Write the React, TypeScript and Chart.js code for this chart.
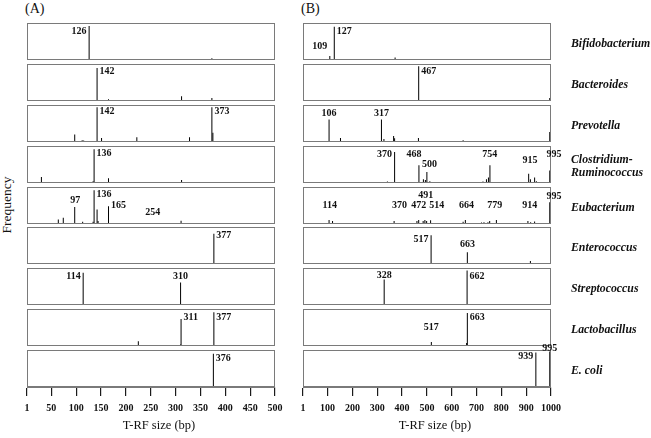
import React, { useEffect, useRef } from 'react';
import { Chart, registerables } from 'chart.js';

Chart.register(...registerables);

// ---------- DATA ----------
const GENERA = [
  'Bifidobacterium',
  'Bacteroides',
  'Prevotella',
  'Clostridium-\nRuminococcus',
  'Eubacterium',
  'Enterococcus',
  'Streptococcus',
  'Lactobacillus',
  'E. coli',
];
const PANEL_TITLES = ['(A)', '(B)'];
const X_TITLE = 'T-RF size (bp)';
const Y_TITLE = 'Frequency';
const TICKS_A = [1, 50, 100, 150, 200, 250, 300, 350, 400, 450, 500];
const TICKS_B = [1, 100, 200, 300, 400, 500, 600, 700, 800, 900, 1000];

// peaks: [T-RF size (bp), relative frequency]
const A_BIFIDO = [[126, 92], [373, 5]];
const A_BACTER = [[142, 89], [165, 5], [312, 13], [373, 8]];
const A_PREVO = [[97, 20], [112, 5], [115, 4], [142, 94], [151, 11], [222, 13], [328, 13], [373, 94], [375, 25]];
const A_CLOST = [[30, 16], [62, 3], [69, 2], [81, 2], [134, 5], [136, 91], [165, 13], [312, 8]];
const A_EUBAC = [[64, 12], [74, 17], [97, 46], [113, 6], [134, 6], [136, 91], [142, 39], [144, 8], [165, 48], [254, 3], [311, 9]];
const A_ENTER = [[377, 82]];
const A_STREP = [[114, 87], [142, 2], [240, 2], [310, 61]];
const A_LACTO = [[142, 2], [225, 13], [284, 2], [310, 4], [311, 73], [377, 91]];
const A_ECOLI = [[134, 2], [376, 90]];

const B_BIFIDO = [[109, 11], [127, 90], [330, 3], [372, 7]];
const B_BACTER = [[370, 3], [467, 94], [655, 3], [846, 2], [995, 8]];
const B_PREVO = [[106, 61], [152, 11], [317, 61], [327, 8], [366, 16], [370, 10], [466, 11], [646, 5], [995, 27]];
const B_CLOST = [[50, 2], [114, 3], [175, 2], [288, 2], [341, 4], [370, 84], [422, 2], [468, 48], [486, 10], [494, 8], [500, 30], [512, 5], [612, 2], [652, 2], [666, 3], [689, 3], [726, 4], [740, 10], [748, 15], [754, 48], [910, 25], [917, 10], [934, 15], [941, 5], [955, 3], [965, 3], [995, 34]];
const B_EUBAC = [[106, 11], [120, 8], [330, 3], [368, 8], [460, 8], [467, 11], [485, 8], [492, 11], [499, 8], [515, 10], [525, 3], [646, 6], [655, 11], [720, 4], [730, 5], [746, 5], [753, 8], [780, 11], [907, 8], [918, 5], [934, 7], [944, 3], [995, 59]];
const B_ENTER = [[420, 3], [517, 78], [663, 32], [917, 8], [995, 3]];
const B_STREP = [[328, 69], [491, 2], [496, 2], [536, 2], [568, 2], [662, 93]];
const B_LACTO = [[116, 2], [321, 2], [330, 2], [518, 11], [660, 8], [663, 89]];
const B_ECOLI = [[939, 93], [995, 96]];

// peak labels: [text, anchor bp, frequency level, side]
const A_BIFIDO_LBL = [['126', 126, 78, 'l']];
const A_BACTER_LBL = [['142', 142, 81, 'r']];
const A_PREVO_LBL = [['142', 142, 83, 'r'], ['373', 373, 83, 'r']];
const A_CLOST_LBL = [['136', 136, 79, 'r']];
const A_EUBAC_LBL = [['97', 98, 64, 'c'], ['136', 136, 80, 'r'], ['165', 165, 49, 'r'], ['254', 254, 31, 'c']];
const A_ENTER_LBL = [['377', 377, 78, 'r']];
const A_STREP_LBL = [['114', 114, 76, 'l'], ['310', 310, 78, 'c']];
const A_LACTO_LBL = [['311', 311, 77, 'r'], ['377', 377, 77, 'r']];
const A_ECOLI_LBL = [['376', 376, 76, 'r']];

const B_BIFIDO_LBL = [['127', 127, 78, 'r'], ['109', 109, 36, 'l']];
const B_BACTER_LBL = [['467', 467, 81, 'r']];
const B_PREVO_LBL = [['106', 106, 78, 'c'], ['317', 317, 78, 'c']];
const B_CLOST_LBL = [['370', 370, 76, 'l'], ['468', 448, 76, 'c'], ['500', 511, 51, 'c'], ['754', 753, 76, 'c'], ['915', 915, 60, 'c'], ['995', 1012, 76, 'c']];
const B_EUBAC_LBL = [['114', 109, 49, 'c'], ['370', 390, 49, 'c'], ['472', 467, 49, 'c'], ['491', 495, 78, 'c'], ['514', 540, 49, 'c'], ['664', 660, 49, 'c'], ['779', 773, 49, 'c'], ['914', 914, 49, 'c'], ['995', 1012, 74, 'c']];
const B_ENTER_LBL = [['517', 517, 67, 'l'], ['663', 664, 54, 'c']];
const B_STREP_LBL = [['328', 328, 81, 'c'], ['662', 662, 76, 'r']];
const B_LACTO_LBL = [['663', 663, 78, 'r'], ['517', 518, 50, 'c']];
const B_ECOLI_LBL = [['939', 939, 82, 'l'], ['995', 995, 105, 'c']];

const PEAKS_A = [A_BIFIDO, A_BACTER, A_PREVO, A_CLOST, A_EUBAC, A_ENTER, A_STREP, A_LACTO, A_ECOLI];
const PEAKS_B = [B_BIFIDO, B_BACTER, B_PREVO, B_CLOST, B_EUBAC, B_ENTER, B_STREP, B_LACTO, B_ECOLI];
const LABELS_A = [A_BIFIDO_LBL, A_BACTER_LBL, A_PREVO_LBL, A_CLOST_LBL, A_EUBAC_LBL, A_ENTER_LBL, A_STREP_LBL, A_LACTO_LBL, A_ECOLI_LBL];
const LABELS_B = [B_BIFIDO_LBL, B_BACTER_LBL, B_PREVO_LBL, B_CLOST_LBL, B_EUBAC_LBL, B_ENTER_LBL, B_STREP_LBL, B_LACTO_LBL, B_ECOLI_LBL];

// ---------- LAYOUT / STYLE ----------
const SERIF = '"Liberation Serif", "Times New Roman", serif';
const NUM_FONT = { family: SERIF, size: 10, weight: 'bold' as const };
const BOX_TOPS = [23, 64, 105, 146, 187, 227, 268, 309, 350];
const BOX_H = 37;
const BOX_W = 248;
const PANEL_LEFT = [27, 303];
const PL = 16, PR = 16, PT = 14, PB = 4, AXIS_H = 48;

function Spectrum({ peaks, labels, xmax, ticks, bottom, boxLeft, boxTop }) {
  const ref = useRef<HTMLCanvasElement | null>(null);
  const W = BOX_W + PL + PR;
  const H = PT + BOX_H + (bottom ? AXIS_H : PB);
  useEffect(() => {
    const boxPlugin = {
      id: 'boxFrame',
      afterDraw(chart) {
        const { ctx, chartArea: a } = chart;
        ctx.save();
        ctx.strokeStyle = '#7a7a7a';
        ctx.lineWidth = 1;
        ctx.strokeRect(a.left + 0.5, a.top + 0.5, a.right - a.left - 1, a.bottom - a.top - 1);
        ctx.restore();
      },
    };
    const labelPlugin = {
      id: 'peakLabels',
      afterDraw(chart) {
        const { ctx } = chart;
        const xs = chart.scales.x, ys = chart.scales.y;
        ctx.save();
        ctx.font = `bold 10px ${SERIF}`;
        ctx.fillStyle = '#111';
        ctx.textBaseline = 'middle';
        for (const [t, bp, lv, side] of labels) {
          const px = xs.getPixelForValue(bp);
          const py = ys.getPixelForValue(lv);
          if (side === 'l') { ctx.textAlign = 'right'; ctx.fillText(t, px - 2.5, py); }
          else if (side === 'r') { ctx.textAlign = 'left'; ctx.fillText(t, px + 2.5, py); }
          else { ctx.textAlign = 'center'; ctx.fillText(t, px, py); }
        }
        ctx.restore();
      },
    };
    const xScale: any = {
      type: 'linear',
      min: 1,
      max: xmax,
      offset: false,
      display: !!bottom,
    };
    if (bottom) {
      Object.assign(xScale, {
        afterBuildTicks: (s) => { s.ticks = ticks.map((v) => ({ value: v })); },
        afterFit: (s) => { s.height = AXIS_H; },
        grid: { display: true, offset: false, drawOnChartArea: false, drawTicks: true, tickLength: 9, color: '#1a1a1a', lineWidth: 1.2 },
        border: { display: true, color: '#7a7a7a' },
        ticks: { font: NUM_FONT, color: '#111', padding: 6, maxRotation: 0, autoSkip: false, callback: (v) => String(v) },
        title: { display: false },
      });
    }
    const chart = new Chart(ref.current as HTMLCanvasElement, {
      type: 'bar',
      data: {
        datasets: [{
          data: peaks.map(([x, y]) => ({ x, y })),
          backgroundColor: '#000',
          borderWidth: 0,
          inflateAmount: 0,
          barThickness: 1,
        }],
      },
      options: {
        animation: false,
        responsive: false,
        maintainAspectRatio: false,
        layout: { padding: { left: PL, right: PR, top: PT, bottom: bottom ? 0 : PB } },
        plugins: { legend: { display: false }, tooltip: { enabled: false } },
        scales: {
          x: xScale,
          y: { min: 0, max: 100, display: false },
        },
      },
      plugins: [boxPlugin, labelPlugin],
    } as any);
    return () => chart.destroy();
  }, []);
  return (
    <canvas
      ref={ref}
      width={W}
      height={H}
      style={{ position: 'absolute', left: boxLeft - PL, top: boxTop - PT, width: W, height: H }}
    />
  );
}

export default function App() {
  const panels = [
    { peaks: PEAKS_A, labels: LABELS_A, xmax: 500, ticks: TICKS_A },
    { peaks: PEAKS_B, labels: LABELS_B, xmax: 1000, ticks: TICKS_B },
  ];
  return (
    <div style={{ position: 'absolute', left: 0, top: 0, width: 651, height: 438, background: '#fff', overflow: 'hidden', fontFamily: SERIF, color: '#111' }}>
      {PANEL_TITLES.map((t, i) => (
        <div key={t} style={{ position: 'absolute', left: i === 0 ? 25 : 301, top: 0, fontSize: 14, lineHeight: '17px' }}>{t}</div>
      ))}
      <div style={{ position: 'absolute', left: 7, top: 205, width: 0, height: 0 }}>
        <div style={{ position: 'absolute', left: -40, top: -8, width: 80, textAlign: 'center', fontSize: 13.5, lineHeight: '16px', transform: 'rotate(-90deg)' }}>{Y_TITLE}</div>
      </div>
      {panels.map((p, pi) =>
        p.peaks.map((pk, ri) => (
          <Spectrum
            key={`${pi}-${ri}`}
            peaks={pk}
            labels={p.labels[ri]}
            xmax={p.xmax}
            ticks={p.ticks}
            bottom={ri === 8}
            boxLeft={PANEL_LEFT[pi]}
            boxTop={BOX_TOPS[ri]}
          />
        ))
      )}
      {PANEL_LEFT.map((l, i) => (
        <div key={`xt${i}`} style={{ position: 'absolute', left: l + BOX_W / 2 + 8 - 60, top: 417, width: 120, textAlign: 'center', fontSize: 12.5, lineHeight: '17px' }}>{X_TITLE}</div>
      ))}
      {GENERA.map((g, i) => {
        const lines = g.split('\n');
        const c = BOX_TOPS[i] + BOX_H / 2 + 1.5;
        const lh = 13;
        return (
          <div key={g} style={{ position: 'absolute', left: 571, top: c - (lines.length * lh) / 2, fontSize: 11.8, lineHeight: `${lh}px`, fontWeight: 'bold', fontStyle: 'italic', whiteSpace: 'pre' }}>
            {g}
          </div>
        );
      })}
    </div>
  );
}
